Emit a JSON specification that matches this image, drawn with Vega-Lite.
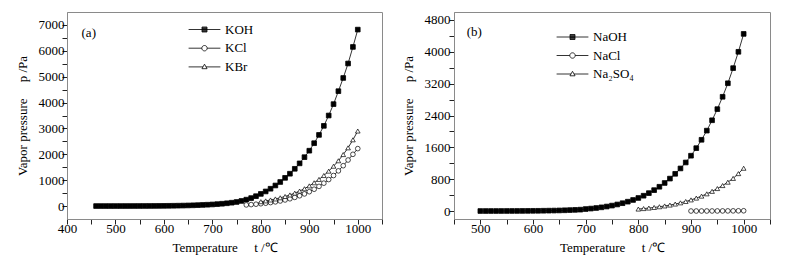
{
  "$schema": "https://vega.github.io/schema/vega-lite/v6.json",
  "padding": {"left": 15, "top": 11, "right": 5, "bottom": 5},
  "background": "white",
  "datasets": {
    "a": [
      {"s": "KOH", "t": 460, "p": 0.2}, {"s": "KOH", "t": 470, "p": 0.3}, {"s": "KOH", "t": 480, "p": 0.4}, {"s": "KOH", "t": 490, "p": 0.5},
      {"s": "KOH", "t": 500, "p": 0.7}, {"s": "KOH", "t": 510, "p": 0.9}, {"s": "KOH", "t": 520, "p": 1.2}, {"s": "KOH", "t": 530, "p": 1.5},
      {"s": "KOH", "t": 540, "p": 2}, {"s": "KOH", "t": 550, "p": 2.5}, {"s": "KOH", "t": 560, "p": 3.2}, {"s": "KOH", "t": 570, "p": 4},
      {"s": "KOH", "t": 580, "p": 5}, {"s": "KOH", "t": 590, "p": 6.3}, {"s": "KOH", "t": 600, "p": 8}, {"s": "KOH", "t": 610, "p": 10},
      {"s": "KOH", "t": 620, "p": 12.5}, {"s": "KOH", "t": 630, "p": 15.5}, {"s": "KOH", "t": 640, "p": 19}, {"s": "KOH", "t": 650, "p": 24},
      {"s": "KOH", "t": 660, "p": 29}, {"s": "KOH", "t": 670, "p": 36}, {"s": "KOH", "t": 680, "p": 44}, {"s": "KOH", "t": 690, "p": 52},
      {"s": "KOH", "t": 700, "p": 62}, {"s": "KOH", "t": 710, "p": 75}, {"s": "KOH", "t": 720, "p": 90}, {"s": "KOH", "t": 730, "p": 108},
      {"s": "KOH", "t": 740, "p": 130}, {"s": "KOH", "t": 750, "p": 158}, {"s": "KOH", "t": 760, "p": 198}, {"s": "KOH", "t": 770, "p": 248},
      {"s": "KOH", "t": 780, "p": 308}, {"s": "KOH", "t": 790, "p": 382}, {"s": "KOH", "t": 800, "p": 470}, {"s": "KOH", "t": 810, "p": 565},
      {"s": "KOH", "t": 820, "p": 670}, {"s": "KOH", "t": 830, "p": 795}, {"s": "KOH", "t": 840, "p": 930}, {"s": "KOH", "t": 850, "p": 1090},
      {"s": "KOH", "t": 860, "p": 1250}, {"s": "KOH", "t": 870, "p": 1440}, {"s": "KOH", "t": 880, "p": 1650}, {"s": "KOH", "t": 890, "p": 1890},
      {"s": "KOH", "t": 900, "p": 2140}, {"s": "KOH", "t": 910, "p": 2430}, {"s": "KOH", "t": 920, "p": 2750}, {"s": "KOH", "t": 930, "p": 3100},
      {"s": "KOH", "t": 940, "p": 3500}, {"s": "KOH", "t": 950, "p": 3940}, {"s": "KOH", "t": 960, "p": 4440}, {"s": "KOH", "t": 970, "p": 4950},
      {"s": "KOH", "t": 980, "p": 5510}, {"s": "KOH", "t": 990, "p": 6150}, {"s": "KOH", "t": 1000, "p": 6820},
      {"s": "KCl", "t": 770, "p": 45}, {"s": "KCl", "t": 780, "p": 57}, {"s": "KCl", "t": 790, "p": 72}, {"s": "KCl", "t": 800, "p": 90},
      {"s": "KCl", "t": 810, "p": 110}, {"s": "KCl", "t": 820, "p": 135}, {"s": "KCl", "t": 830, "p": 163}, {"s": "KCl", "t": 840, "p": 197},
      {"s": "KCl", "t": 850, "p": 236}, {"s": "KCl", "t": 860, "p": 282}, {"s": "KCl", "t": 870, "p": 335}, {"s": "KCl", "t": 880, "p": 398},
      {"s": "KCl", "t": 890, "p": 470}, {"s": "KCl", "t": 900, "p": 555}, {"s": "KCl", "t": 910, "p": 650}, {"s": "KCl", "t": 920, "p": 760},
      {"s": "KCl", "t": 930, "p": 885}, {"s": "KCl", "t": 940, "p": 1025}, {"s": "KCl", "t": 950, "p": 1180}, {"s": "KCl", "t": 960, "p": 1360},
      {"s": "KCl", "t": 970, "p": 1560}, {"s": "KCl", "t": 980, "p": 1780}, {"s": "KCl", "t": 990, "p": 2000}, {"s": "KCl", "t": 1000, "p": 2220},
      {"s": "KBr", "t": 800, "p": 170}, {"s": "KBr", "t": 810, "p": 200}, {"s": "KBr", "t": 820, "p": 235}, {"s": "KBr", "t": 830, "p": 275},
      {"s": "KBr", "t": 840, "p": 320}, {"s": "KBr", "t": 850, "p": 370}, {"s": "KBr", "t": 860, "p": 430}, {"s": "KBr", "t": 870, "p": 500},
      {"s": "KBr", "t": 880, "p": 580}, {"s": "KBr", "t": 890, "p": 670}, {"s": "KBr", "t": 900, "p": 780}, {"s": "KBr", "t": 910, "p": 900},
      {"s": "KBr", "t": 920, "p": 1030}, {"s": "KBr", "t": 930, "p": 1180}, {"s": "KBr", "t": 940, "p": 1350}, {"s": "KBr", "t": 950, "p": 1540},
      {"s": "KBr", "t": 960, "p": 1750}, {"s": "KBr", "t": 970, "p": 1990}, {"s": "KBr", "t": 980, "p": 2250}, {"s": "KBr", "t": 990, "p": 2560},
      {"s": "KBr", "t": 1000, "p": 2900}
    ],
    "b": [
      {"s": "NaOH", "t": 500, "p": 0.4}, {"s": "NaOH", "t": 510, "p": 0.5}, {"s": "NaOH", "t": 520, "p": 0.7}, {"s": "NaOH", "t": 530, "p": 0.9},
      {"s": "NaOH", "t": 540, "p": 1.1}, {"s": "NaOH", "t": 550, "p": 1.5}, {"s": "NaOH", "t": 560, "p": 1.9}, {"s": "NaOH", "t": 570, "p": 2.4},
      {"s": "NaOH", "t": 580, "p": 3}, {"s": "NaOH", "t": 590, "p": 4}, {"s": "NaOH", "t": 600, "p": 5}, {"s": "NaOH", "t": 610, "p": 6},
      {"s": "NaOH", "t": 620, "p": 8}, {"s": "NaOH", "t": 630, "p": 10}, {"s": "NaOH", "t": 640, "p": 12}, {"s": "NaOH", "t": 650, "p": 15},
      {"s": "NaOH", "t": 660, "p": 19}, {"s": "NaOH", "t": 670, "p": 24}, {"s": "NaOH", "t": 680, "p": 29}, {"s": "NaOH", "t": 690, "p": 35},
      {"s": "NaOH", "t": 700, "p": 50}, {"s": "NaOH", "t": 710, "p": 62}, {"s": "NaOH", "t": 720, "p": 76}, {"s": "NaOH", "t": 730, "p": 93},
      {"s": "NaOH", "t": 740, "p": 113}, {"s": "NaOH", "t": 750, "p": 137}, {"s": "NaOH", "t": 760, "p": 165}, {"s": "NaOH", "t": 770, "p": 197},
      {"s": "NaOH", "t": 780, "p": 235}, {"s": "NaOH", "t": 790, "p": 278}, {"s": "NaOH", "t": 800, "p": 328}, {"s": "NaOH", "t": 810, "p": 385},
      {"s": "NaOH", "t": 820, "p": 450}, {"s": "NaOH", "t": 830, "p": 525}, {"s": "NaOH", "t": 840, "p": 610}, {"s": "NaOH", "t": 850, "p": 705},
      {"s": "NaOH", "t": 860, "p": 815}, {"s": "NaOH", "t": 870, "p": 935}, {"s": "NaOH", "t": 880, "p": 1070}, {"s": "NaOH", "t": 890, "p": 1220},
      {"s": "NaOH", "t": 900, "p": 1390}, {"s": "NaOH", "t": 910, "p": 1580}, {"s": "NaOH", "t": 920, "p": 1790}, {"s": "NaOH", "t": 930, "p": 2020},
      {"s": "NaOH", "t": 940, "p": 2280}, {"s": "NaOH", "t": 950, "p": 2560}, {"s": "NaOH", "t": 960, "p": 2870}, {"s": "NaOH", "t": 970, "p": 3210},
      {"s": "NaOH", "t": 980, "p": 3590}, {"s": "NaOH", "t": 990, "p": 4000}, {"s": "NaOH", "t": 1000, "p": 4450},
      {"s": "NaCl", "t": 900, "p": 0.5}, {"s": "NaCl", "t": 910, "p": 0.7}, {"s": "NaCl", "t": 920, "p": 1}, {"s": "NaCl", "t": 930, "p": 1.3},
      {"s": "NaCl", "t": 940, "p": 1.7}, {"s": "NaCl", "t": 950, "p": 2.2}, {"s": "NaCl", "t": 960, "p": 2.8}, {"s": "NaCl", "t": 970, "p": 3.5},
      {"s": "NaCl", "t": 980, "p": 4.4}, {"s": "NaCl", "t": 990, "p": 5.5}, {"s": "NaCl", "t": 1000, "p": 6.8},
      {"s": "Na₂SO₄", "t": 800, "p": 50}, {"s": "Na₂SO₄", "t": 810, "p": 62}, {"s": "Na₂SO₄", "t": 820, "p": 75}, {"s": "Na₂SO₄", "t": 830, "p": 90},
      {"s": "Na₂SO₄", "t": 840, "p": 108}, {"s": "Na₂SO₄", "t": 850, "p": 128}, {"s": "Na₂SO₄", "t": 860, "p": 150}, {"s": "Na₂SO₄", "t": 870, "p": 176},
      {"s": "Na₂SO₄", "t": 880, "p": 206}, {"s": "Na₂SO₄", "t": 890, "p": 240}, {"s": "Na₂SO₄", "t": 900, "p": 280}, {"s": "Na₂SO₄", "t": 910, "p": 325},
      {"s": "Na₂SO₄", "t": 920, "p": 375}, {"s": "Na₂SO₄", "t": 930, "p": 432}, {"s": "Na₂SO₄", "t": 940, "p": 495}, {"s": "Na₂SO₄", "t": 950, "p": 565},
      {"s": "Na₂SO₄", "t": 960, "p": 640}, {"s": "Na₂SO₄", "t": 970, "p": 725}, {"s": "Na₂SO₄", "t": 980, "p": 820}, {"s": "Na₂SO₄", "t": 990, "p": 940},
      {"s": "Na₂SO₄", "t": 1000, "p": 1075}
    ]
  },
  "resolve": {"scale": {"shape": "independent"}, "legend": {"shape": "independent"}},
  "hconcat": [
    {
      "width": 315,
      "height": 207,
      "data": {"name": "a"},
      "encoding": {
        "x": {"field": "t", "type": "quantitative", "scale": {"domain": [400, 1050], "nice": false, "zero": false}},
        "y": {"field": "p", "type": "quantitative", "scale": {"domain": [-500, 7500], "nice": false, "zero": false}}
      },
      "layer": [
        {
          "mark": {"type": "line", "color": "black", "strokeWidth": 0.8},
          "encoding": {
            "x": {"field": "t", "type": "quantitative", "scale": {"domain": [400, 1050], "nice": false, "zero": false},
              "axis": {"title": "Temperature\u00a0\u00a0\u00a0\u00a0\u00a0t /℃", "values": [400, 450, 500, 550, 600, 650, 700, 750, 800, 850, 900, 950, 1000, 1050],
                "tickCount": 100, "format": "d", "labelExpr": "datum.value % 100 === 0 ? datum.label : ''", "labelOverlap": false, "labelFlush": false,
                "tickSize": 5, "labelPadding": -2, "titlePadding": 6,
                "encode": {"ticks": {"y2": {"condition": {"test": "datum.value % 100 === 0", "value": -5}, "value": -3}}}}},
            "y": {"field": "p", "type": "quantitative", "scale": {"domain": [-500, 7500], "nice": false, "zero": false},
              "axis": {"title": "Vapor pressure\u00a0\u00a0\u00a0\u00a0\u00a0p /Pa", "values": [0, 500, 1000, 1500, 2000, 2500, 3000, 3500, 4000, 4500, 5000, 5500, 6000, 6500, 7000],
                "tickCount": 100, "format": "d", "labelExpr": "datum.value % 1000 === 0 ? datum.label : ''", "labelOverlap": false, "labelFlush": false,
                "tickSize": 5, "labelPadding": -2, "titlePadding": 9,
                "encode": {"ticks": {"x2": {"condition": {"test": "datum.value % 1000 === 0", "value": 5}, "value": 3}}}}},
            "detail": {"field": "s"}
          }
        },
        {
          "transform": [{"filter": "datum.s === 'KOH'"}],
          "mark": {"type": "point", "shape": "square", "filled": true, "size": 22, "fill": "black", "stroke": "black", "strokeWidth": 0.8, "opacity": 1}
        },
        {
          "transform": [{"filter": "datum.s === 'KCl'"}],
          "mark": {"type": "point", "shape": "circle", "filled": true, "size": 22, "fill": "white", "stroke": "black", "strokeWidth": 0.7, "opacity": 1}
        },
        {
          "transform": [{"filter": "datum.s === 'KBr'"}],
          "mark": {"type": "point", "shape": "triangle-up", "filled": true, "size": 22, "fill": "white", "stroke": "black", "strokeWidth": 0.7, "opacity": 1}
        },
        {
          "mark": {"type": "point", "filled": false, "color": "black", "size": 36, "opacity": 0, "strokeWidth": 0.8},
          "encoding": {
            "shape": {"field": "s", "type": "nominal",
              "scale": {"domain": ["KOH", "KCl", "KBr"], "range": [
                "M-5.3,0H5.3M-0.83,-0.83H0.83V0.83H-0.83ZM-0.83,-0.6H0.83M-0.83,-0.35H0.83M-0.83,-0.1H0.83M-0.83,0.15H0.83M-0.83,0.4H0.83M-0.83,0.65H0.83",
                "M-5.3,0H-0.9M0.9,0H5.3M0.9,0A0.9,0.9 0 1,1 -0.9,0A0.9,0.9 0 1,1 0.9,0Z",
                "M-5.3,0H-0.51M0.51,0H5.3M0,-0.9L0.85,0.6H-0.85Z"]},
              "legend": {"orient": "none", "legendX": 131, "legendY": 11, "title": null, "labelFont": "Liberation Serif", "labelFontSize": 13, "labelColor": "black",
                "labelOffset": 14, "rowPadding": 4.7, "symbolSize": 36, "padding": 0,
                "symbolStrokeColor": "black", "symbolStrokeWidth": 0.8, "symbolOpacity": 1,
                "encode": {"symbols": {"stroke": {"value": "black"}, "strokeWidth": {"value": 0.8}, "opacity": {"value": 1}}}}}
          }
        },
        {
          "data": {"values": [{"lab": "(a)", "t": 430, "p": 6700}]},
          "mark": {"type": "text", "align": "left", "baseline": "middle", "fontSize": 13, "font": "Liberation Serif", "color": "black"},
          "encoding": {"text": {"field": "lab"}}
        }
      ]
    },
    {
      "width": 316,
      "height": 207,
      "data": {"name": "b"},
      "encoding": {
        "x": {"field": "t", "type": "quantitative", "scale": {"domain": [450, 1050], "nice": false, "zero": false}},
        "y": {"field": "p", "type": "quantitative", "scale": {"domain": [-200, 5000], "nice": false, "zero": false}}
      },
      "layer": [
        {
          "mark": {"type": "line", "color": "black", "strokeWidth": 0.8},
          "encoding": {
            "x": {"field": "t", "type": "quantitative", "scale": {"domain": [450, 1050], "nice": false, "zero": false},
              "axis": {"title": "Temperature\u00a0\u00a0\u00a0\u00a0\u00a0t /℃", "values": [450, 500, 550, 600, 650, 700, 750, 800, 850, 900, 950, 1000, 1050],
                "tickCount": 100, "format": "d", "labelExpr": "datum.value % 100 === 0 ? datum.label : ''", "labelOverlap": false, "labelFlush": false,
                "tickSize": 5, "labelPadding": -2, "titlePadding": 6,
                "encode": {"ticks": {"y2": {"condition": {"test": "datum.value % 100 === 0", "value": -5}, "value": -3}}}}},
            "y": {"field": "p", "type": "quantitative", "scale": {"domain": [-200, 5000], "nice": false, "zero": false},
              "axis": {"title": "Vapor pressure\u00a0\u00a0\u00a0\u00a0\u00a0p /Pa", "values": [0, 400, 800, 1200, 1600, 2000, 2400, 2800, 3200, 3600, 4000, 4400, 4800],
                "tickCount": 100, "format": "d", "labelExpr": "datum.value % 800 === 0 ? datum.label : ''", "labelOverlap": false, "labelFlush": false,
                "tickSize": 5, "labelPadding": -1, "titlePadding": 9,
                "encode": {"ticks": {"x2": {"condition": {"test": "datum.value % 800 === 0", "value": 5}, "value": 3}}}}},
            "detail": {"field": "s"}
          }
        },
        {
          "transform": [{"filter": "datum.s === 'NaOH'"}],
          "mark": {"type": "point", "shape": "square", "filled": true, "size": 22, "fill": "black", "stroke": "black", "strokeWidth": 0.8, "opacity": 1}
        },
        {
          "transform": [{"filter": "datum.s === 'NaCl'"}],
          "mark": {"type": "point", "shape": "circle", "filled": true, "size": 22, "fill": "white", "stroke": "black", "strokeWidth": 0.7, "opacity": 1}
        },
        {
          "transform": [{"filter": "datum.s === 'Na₂SO₄'"}],
          "mark": {"type": "point", "shape": "triangle-up", "filled": true, "size": 22, "fill": "white", "stroke": "black", "strokeWidth": 0.7, "opacity": 1}
        },
        {
          "mark": {"type": "point", "filled": false, "color": "black", "size": 36, "opacity": 0, "strokeWidth": 0.8},
          "encoding": {
            "shape": {"field": "s", "type": "nominal",
              "scale": {"domain": ["NaOH", "NaCl", "Na₂SO₄"], "range": [
                "M-5.3,0H5.3M-0.83,-0.83H0.83V0.83H-0.83ZM-0.83,-0.6H0.83M-0.83,-0.35H0.83M-0.83,-0.1H0.83M-0.83,0.15H0.83M-0.83,0.4H0.83M-0.83,0.65H0.83",
                "M-5.3,0H-0.9M0.9,0H5.3M0.9,0A0.9,0.9 0 1,1 -0.9,0A0.9,0.9 0 1,1 0.9,0Z",
                "M-5.3,0H-0.51M0.51,0H5.3M0,-0.9L0.85,0.6H-0.85Z"]},
              "legend": {"orient": "none", "legendX": 112, "legendY": 18.5, "title": null, "labelFont": "Liberation Serif", "labelFontSize": 13, "labelColor": "black",
                "labelOffset": 14, "rowPadding": 4.5, "symbolSize": 36, "padding": 0,
                "symbolStrokeColor": "black", "symbolStrokeWidth": 0.8, "symbolOpacity": 1,
                "encode": {"symbols": {"stroke": {"value": "black"}, "strokeWidth": {"value": 0.8}, "opacity": {"value": 1}}}}}
          }
        },
        {
          "data": {"values": [{"lab": "(b)", "t": 474, "p": 4490}]},
          "mark": {"type": "text", "align": "left", "baseline": "middle", "fontSize": 13, "font": "Liberation Serif", "color": "black"},
          "encoding": {"text": {"field": "lab"}}
        }
      ]
    }
  ],
  "spacing": 18,
  "config": {
    "view": {"stroke": "#8a8a8a", "strokeWidth": 1},
    "font": "Liberation Serif",
    "axis": {"domainColor": "#8a8a8a", "tickColor": "#222", "tickWidth": 1, "labelColor": "black", "labelFont": "Liberation Serif", "labelFontSize": 13,
      "titleFont": "Liberation Serif", "titleFontSize": 13, "titleFontWeight": "normal", "titleColor": "black", "grid": false,
      "labelFlush": false, "labelOverlap": false}
  }
}
